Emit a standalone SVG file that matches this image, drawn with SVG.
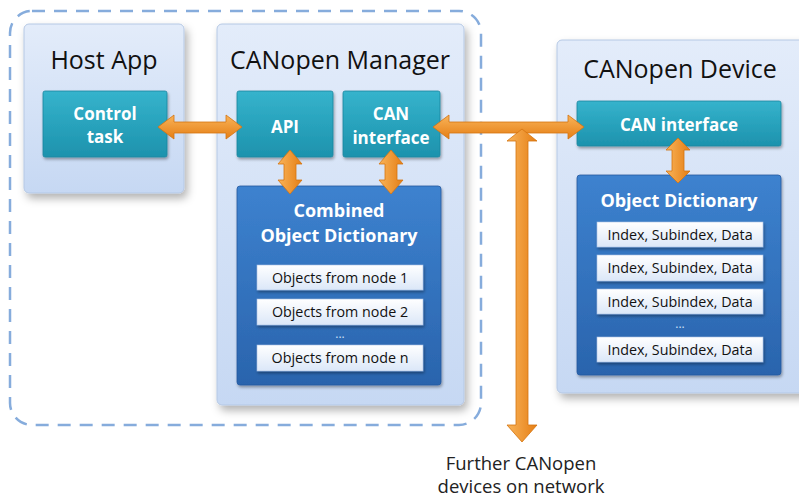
<svg xmlns="http://www.w3.org/2000/svg" width="799" height="497" viewBox="0 0 799 497">
<defs>
<linearGradient id="gPanel" x1="0" y1="0" x2="0" y2="1"><stop offset="0" stop-color="#e3ecfa"/><stop offset="1" stop-color="#c6d8f3"/></linearGradient>
<linearGradient id="gTeal" x1="0" y1="0" x2="0" y2="1"><stop offset="0" stop-color="#35b3cc"/><stop offset="1" stop-color="#1d92ad"/></linearGradient>
<linearGradient id="gOD" x1="0" y1="0" x2="0" y2="1"><stop offset="0" stop-color="#3d82cf"/><stop offset="1" stop-color="#2a64ad"/></linearGradient>
<linearGradient id="gRow" x1="0" y1="0" x2="0" y2="1"><stop offset="0" stop-color="#ffffff"/><stop offset="1" stop-color="#dbe7f8"/></linearGradient>
<linearGradient id="gArrH" x1="0" y1="0" x2="0" y2="1"><stop offset="0" stop-color="#f9b45a"/><stop offset="1" stop-color="#e57e14"/></linearGradient>
<linearGradient id="gArrV" x1="0" y1="0" x2="1" y2="0"><stop offset="0" stop-color="#f9b45a"/><stop offset="1" stop-color="#e57e14"/></linearGradient>
<filter id="sh" x="-10%" y="-10%" width="130%" height="130%"><feDropShadow dx="3" dy="5" stdDeviation="4" flood-color="#000" flood-opacity="0.3"/></filter>
<filter id="sh2" x="-10%" y="-10%" width="130%" height="130%"><feDropShadow dx="1" dy="2" stdDeviation="1.5" flood-color="#000" flood-opacity="0.35"/></filter>
</defs>
<style>
.panel{fill:url(#gPanel);stroke:#b5c8e4;stroke-width:1;filter:url(#sh)}
.teal{fill:url(#gTeal);stroke:#1a86a0;stroke-width:0.8;filter:url(#sh2)}
.od{fill:url(#gOD);stroke:#2458a0;stroke-width:0.8;filter:url(#sh2)}
.row{fill:url(#gRow);stroke:#a9c0e3;stroke-width:0.6;filter:url(#sh2)}
.title{font-family:"Open Sans","Liberation Sans",sans-serif;font-size:25px;fill:#111;text-anchor:middle}
.wt{font-family:"Open Sans","Liberation Sans",sans-serif;font-size:17px;font-weight:bold;fill:#fff;text-anchor:middle}
.wt2{font-family:"Open Sans","Liberation Sans",sans-serif;font-size:18px;font-weight:bold;fill:#fff;text-anchor:middle}
.rt{font-family:"Open Sans","Liberation Sans",sans-serif;font-size:14.3px;fill:#111;text-anchor:middle}
.dots{font-family:"Open Sans","Liberation Sans",sans-serif;font-size:12px;fill:#cfe0f6;text-anchor:middle}
.cap{font-family:"Open Sans","Liberation Sans",sans-serif;font-size:18.5px;fill:#222;text-anchor:middle}
.ah{fill:url(#gArrH);stroke:#d4740f;stroke-width:0.8}
.av{fill:url(#gArrV);stroke:#d4740f;stroke-width:0.8}
</style>
<rect x="10" y="11" width="471" height="414" rx="22" fill="none" stroke="#86acdc" stroke-width="2.5" stroke-dasharray="13,9"/>
<g id="host-app">
<rect class="panel" x="24" y="24" width="160" height="169" rx="5"/>
<text class="title" x="104" y="69">Host App</text>
</g>
<g id="control-task">
<rect class="teal" x="43" y="91" width="124" height="66" rx="2"/>
<text class="wt" x="105" y="120">Control</text>
<text class="wt" x="105" y="143">task</text>
</g>
<g id="canopen-manager">
<rect class="panel" x="217" y="24" width="247" height="381" rx="5"/>
<text class="title" x="340" y="69">CANopen Manager</text>
</g>
<g id="api">
<rect class="teal" x="237" y="91" width="96" height="66" rx="2"/>
<text class="wt" x="285" y="133">API</text>
</g>
<g id="can-interface-mgr">
<rect class="teal" x="343" y="91" width="97" height="66" rx="2"/>
<text class="wt" x="391" y="120">CAN</text>
<text class="wt" x="391" y="144">interface</text>
</g>
<g id="combined-od">
<rect class="od" x="237" y="186" width="204" height="199" rx="3"/>
<text class="wt2" x="339" y="217">Combined</text>
<text class="wt2" x="339" y="242">Object Dictionary</text>
<rect class="row" x="257" y="265" width="166" height="25"/>
<text class="rt" x="340" y="283">Objects from node 1</text>
<rect class="row" x="257" y="299" width="166" height="26"/>
<text class="rt" x="340" y="317">Objects from node 2</text>
<text class="dots" x="340" y="338">...</text>
<rect class="row" x="257" y="345" width="166" height="26"/>
<text class="rt" x="340" y="363">Objects from node n</text>
</g>
<g id="canopen-device">
<rect class="panel" x="557" y="40" width="250" height="353" rx="5"/>
<text class="title" x="680" y="78">CANopen Device</text>
</g>
<g id="can-interface-dev">
<rect class="teal" x="577" y="101" width="204" height="45" rx="2"/>
<text class="wt" x="679" y="131">CAN interface</text>
</g>
<g id="device-od">
<rect class="od" x="577" y="175" width="204" height="200" rx="3"/>
<text class="wt2" x="679" y="207">Object Dictionary</text>
<rect class="row" x="597" y="222" width="166" height="25"/>
<text class="rt" x="680" y="240">Index, Subindex, Data</text>
<rect class="row" x="597" y="255" width="166" height="26"/>
<text class="rt" x="680" y="273">Index, Subindex, Data</text>
<rect class="row" x="597" y="289" width="166" height="25"/>
<text class="rt" x="680" y="307">Index, Subindex, Data</text>
<text class="dots" x="680" y="328">...</text>
<rect class="row" x="597" y="337" width="166" height="25"/>
<text class="rt" x="680" y="355">Index, Subindex, Data</text>
</g>
<g id="connectors">
<polygon class="ah" points="158,127 174,115 174,122 226,122 226,115 242,127 226,139 226,133 174,133 174,139"/>
<polygon class="av" points="290,150 302,164 296,164 296,180 302,180 290,194 278,180 284,180 284,164 278,164"/>
<polygon class="av" points="391,150 403,164 397,164 397,180 403,180 391,194 379,180 385,180 385,164 379,164"/>
<polygon class="ah" points="433,127 449,115 449,122 568,122 568,115 584,127 568,139 568,133 449,133 449,139"/>
<polygon class="av" points="522,129 537,141 528,141 528,425 537,425 522,442 507,425 516,425 516,141 507,141"/>
<polygon class="av" points="678,138 690,150 684,150 684,171 690,171 678,183 666,171 672,171 672,150 666,150"/>
</g>
<text class="cap" x="521" y="470">Further CANopen</text>
<text class="cap" x="521" y="493">devices on network</text>
</svg>
